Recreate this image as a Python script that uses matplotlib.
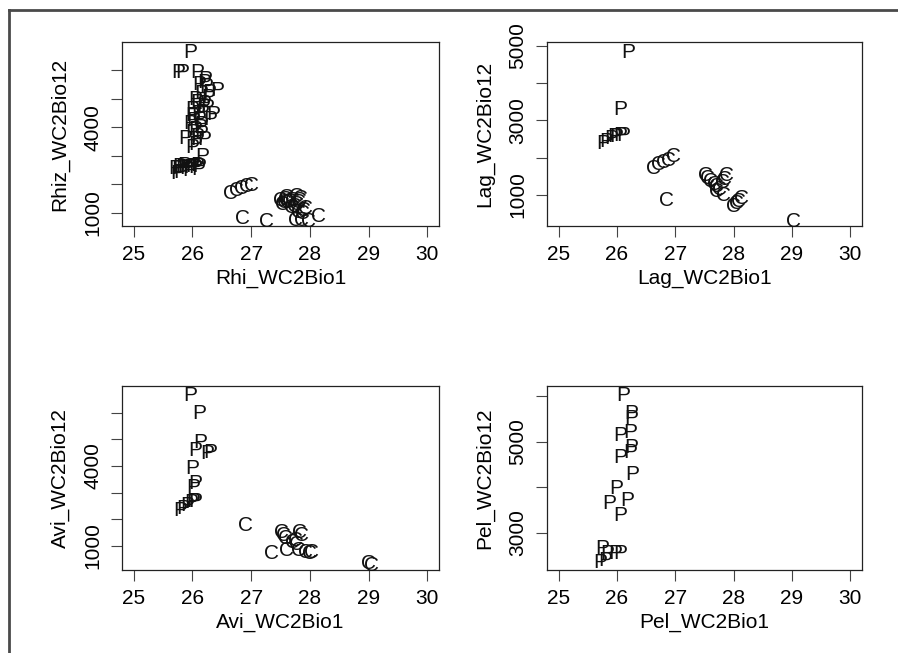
import matplotlib
matplotlib.use("Agg")
import matplotlib.pyplot as plt
from matplotlib import transforms
from matplotlib.lines import Line2D

plt.rcParams['font.family'] = ['Liberation Sans', 'DejaVu Sans']

# ---- data ----
rhi_x = [25.97, 25.75, 25.83, 26.08,
         26.20, 26.24, 26.42, 26.15, 26.27, 26.08, 26.20, 26.00, 26.17, 26.35,
         26.00, 26.12, 26.30, 25.97, 26.15, 26.05, 26.00, 26.15, 25.88, 26.08,
         26.20, 26.05, 26.00, 26.17,
         26.22, 26.12, 26.28, 26.05, 26.18, 26.10, 26.25, 26.02, 26.14, 26.08,
         25.71, 25.76, 25.83, 25.90, 25.97, 26.05, 26.12, 25.74, 25.80, 25.95, 26.10,
         25.78, 25.86, 26.00, 26.08,
         26.65, 26.75, 26.84, 26.92, 27.00, 26.85, 27.27,
         27.50, 27.56, 27.53, 27.62, 27.60, 27.78, 27.84, 27.80, 27.74, 27.68,
         27.80, 27.88, 27.75, 27.86, 27.98, 28.15, 27.92, 27.70,
         27.58, 27.66, 27.82, 27.77, 27.90]
rhi_y = [6700, 6000, 6000, 6000,
         5650, 5500, 5360, 5250, 5100, 4950, 4900, 4700, 4600, 4500,
         4480, 4350, 4350, 4200, 4150, 4000, 3900, 3850, 3670, 3650,
         3650, 3450, 3350, 3030,
         5750, 5550, 5300, 5050, 4800, 4550, 4750, 4300, 4050, 3750,
         2640, 2620, 2650, 2640, 2650, 2660, 2680, 2450, 2500, 2560, 2600,
         2700, 2720, 2700, 2740,
         1745, 1860, 1930, 1990, 2040, 870, 780,
         1510, 1450, 1380, 1420, 1600, 1630, 1560, 1450, 1300, 1250,
         1100, 1050, 820, 815, 760, 930, 1230, 1520,
         1550, 1480, 1500, 1380, 1150]
rhi_grp = list("PPPP" "PPPPPPPPPP" "PPPPPPPPPP" "PPPP" "PPPPPPPPPP"
               "PPPPPPPPPPP" "PPPP"
               "CCCCCCC" "CCCCCCCCCC" "CCCCCCCC" "CCCCC")

lag_x = [26.20, 26.06, 25.77, 25.82, 25.90, 25.98, 26.05, 26.10, 25.95,
         26.63, 26.72, 26.80, 26.88, 26.97, 26.85,
         27.51, 27.55, 27.60, 27.67, 27.71, 27.75, 27.88, 27.85, 27.80, 27.70,
         27.82, 28.05, 28.13, 28.08, 28.00, 29.02]
lag_y = [4860, 3345, 2430, 2500, 2560, 2610, 2640, 2650, 2620,
         1760, 1860, 1930, 1970, 2090, 910,
         1580, 1500, 1420, 1330, 1270, 1200, 1580, 1480, 1390, 1150,
         1045, 820, 950, 880, 760, 340]
lag_grp = list("PPPPPPPPP" "CCCCCC" "CCCCCCCCCC" "CCCCCC")

avi_x = [25.96, 26.11, 26.13, 26.05, 26.25, 26.31, 25.99, 26.05, 26.02,
         25.79, 25.85, 25.92, 25.98, 26.05, 26.02,
         26.90, 27.35, 27.52, 27.55, 27.58, 27.70, 27.83, 27.86, 27.75, 27.78,
         27.61, 27.80, 27.92, 28.00, 28.02, 29.00, 29.05]
avi_y = [6720, 6030, 4970, 4660, 4530, 4580, 3970, 3410, 3285,
         2410, 2500, 2600, 2700, 2760, 2740,
         1850, 790, 1600, 1480, 1350, 1200, 1600, 1480, 1300, 1150,
         915, 900, 850, 790, 830, 410, 360]
avi_grp = list("PPPPPPPPP" "PPPPPP" "CCCCCCCCCC" "CCCCCCC")

pel_x = [26.10, 26.24, 26.24, 26.05, 26.23, 26.24, 26.05, 26.23, 26.26, 25.98,
         25.86, 26.17, 26.06, 25.75, 25.83, 25.97, 26.06, 25.80, 25.72]
pel_y = [6057, 5654, 5544, 5180, 5252, 4923, 4704, 4814, 4316, 4009,
         3680, 3754, 3425, 2693, 2583, 2583, 2583, 2439, 2401]
pel_grp = list("PPPPPPPPPPPPPPPPPPP")

x_ticks = [25, 26, 27, 28, 29, 30]

panels = [
    # x, y, letters, xlabel, ylabel, ylim, yticks, shown tick labels, box (l, r, t, b) px
    (rhi_x, rhi_y, rhi_grp, "Rhi_WC2Bio1", "Rhiz_WC2Bio12", (545, 6980),
     [1000, 2000, 3000, 4000, 5000, 6000], [1000, 4000], (122, 439, 42, 226)),
    (lag_x, lag_y, lag_grp, "Lag_WC2Bio1", "Lag_WC2Bio12", (171, 5100),
     [1000, 2000, 3000, 4000, 5000], [1000, 3000, 5000], (547, 862, 42, 226)),
    (avi_x, avi_y, avi_grp, "Avi_WC2Bio1", "Avi_WC2Bio12", (100, 7000),
     [1000, 2000, 3000, 4000, 5000, 6000], [1000, 4000], (122, 439, 386, 570)),
    (pel_x, pel_y, pel_grp, "Pel_WC2Bio1", "Pel_WC2Bio12", (2182, 6219),
     [3000, 4000, 5000, 6000], [3000, 5000], (547, 862, 386, 570)),
]

W, H = 898, 653
fs = 15
fig = plt.figure(figsize=(W / 100, H / 100), dpi=100)

for xs, ys, grp, xlab, ylab, ylim, yt, ylabs_shown, (l, r, t, b) in panels:
    ax = fig.add_axes([l / W, 1 - b / H, (r - l) / W, (b - t) / H])
    ax.set_xlim(24.8, 30.2)
    ax.set_ylim(*ylim)
    # letters centred on the data point (cap height centre)
    tr = transforms.offset_copy(ax.transData, fig=fig, y=-0.36 * fs, units='points')
    for x, y, g in zip(xs, ys, grp):
        ax.text(x, y, g, transform=tr, ha='center', va='baseline',
                fontsize=fs, color='#111111')
    ax.set_xticks(x_ticks)
    ax.set_xticklabels([str(v) for v in x_ticks])
    ax.set_yticks(yt)
    ax.set_yticklabels([str(v) if v in ylabs_shown else "" for v in yt],
                       rotation=90, va='center')
    ax.tick_params(direction='out', length=8, width=0.8, color='#444444',
                   labelsize=fs, pad=6)
    for s in ax.spines.values():
        s.set_linewidth(0.9)
        s.set_color('#222222')
    ax.set_xlabel(xlab, fontsize=fs, labelpad=3)
    ax.set_ylabel(ylab, fontsize=fs, labelpad=10)

# outer window frame at top and left
fig.add_artist(Line2D([9 / W, 1], [1 - 10 / H, 1 - 10 / H], transform=fig.transFigure,
                      color='#4a4a4a', lw=2))
fig.add_artist(Line2D([9 / W, 9 / W], [0, 1 - 10 / H], transform=fig.transFigure,
                      color='#4a4a4a', lw=2))

fig.savefig("out.png", dpi=100)
